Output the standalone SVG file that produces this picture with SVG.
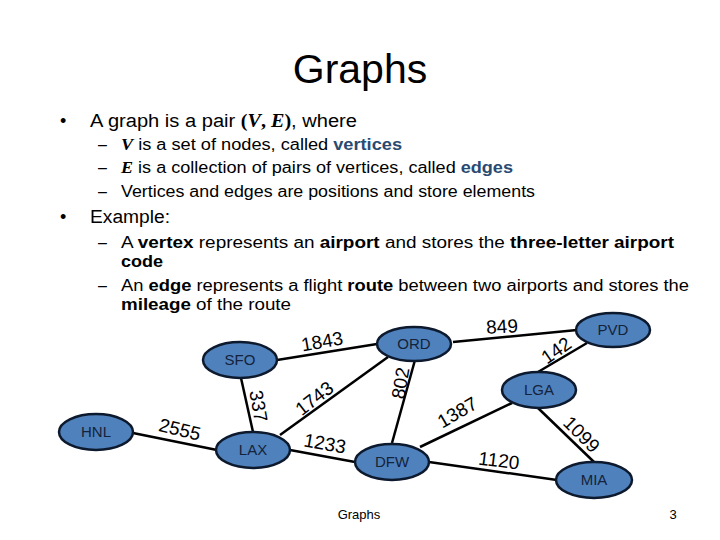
<svg xmlns="http://www.w3.org/2000/svg" width="720" height="540" viewBox="0 0 720 540">
<style>
text{font-family:"Liberation Sans",Arial,sans-serif;fill:#000}
.title{font-size:41px}
.b1{font-size:18px}
.b2{font-size:16px}
.bd{font-weight:bold}
.hl{font-weight:bold;fill:#2a4a72}
.math{font-family:"Liberation Serif","Times New Roman",serif;font-weight:bold;font-style:italic}
.mp{font-family:"Liberation Serif","Times New Roman",serif;font-weight:bold}
.node ellipse{fill:#4f81bd;stroke:#0d1a2e;stroke-width:2.5}
.node text{font-size:15px;fill:#14233a;text-anchor:middle}
.edges line{stroke:#000;stroke-width:2.5}
.lbl{font-size:19px;text-anchor:middle}
.foot{font-size:13px}
</style>
<rect width="720" height="540" fill="#fff"/>
<text class="title" x="360" y="83" text-anchor="middle">Graphs</text>

<text class="b1" x="60" y="127">•</text>
<text class="b1" x="90" y="127" textLength="267" lengthAdjust="spacingAndGlyphs">A graph is a pair <tspan class="mp">(</tspan><tspan class="math">V</tspan><tspan class="mp">, </tspan><tspan class="math">E</tspan><tspan class="mp">)</tspan>, where</text>

<text class="b2" x="98" y="150">–</text>
<text class="b2" x="121" y="150" textLength="281" lengthAdjust="spacingAndGlyphs"><tspan class="math">V</tspan> is a set of nodes, called <tspan class="hl">vertices</tspan></text>
<text class="b2" x="98" y="173">–</text>
<text class="b2" x="121" y="173" textLength="392" lengthAdjust="spacingAndGlyphs"><tspan class="math">E</tspan> is a collection of pairs of vertices, called <tspan class="hl">edges</tspan></text>
<text class="b2" x="98" y="197">–</text>
<text class="b2" x="121" y="197" textLength="414" lengthAdjust="spacingAndGlyphs">Vertices and edges are positions and store elements</text>

<text class="b1" x="60" y="223">•</text>
<text class="b1" x="90" y="223" textLength="80" lengthAdjust="spacingAndGlyphs">Example:</text>

<text class="b2" x="98" y="248">–</text>
<text class="b2" x="121" y="248" textLength="553" lengthAdjust="spacingAndGlyphs">A <tspan class="bd">vertex</tspan> represents an <tspan class="bd">airport</tspan> and stores the <tspan class="bd">three-letter airport</tspan></text>
<text class="b2 bd" x="121" y="267" textLength="42" lengthAdjust="spacingAndGlyphs">code</text>
<text class="b2" x="98" y="291">–</text>
<text class="b2" x="121" y="291" textLength="568" lengthAdjust="spacingAndGlyphs">An <tspan class="bd">edge</tspan> represents a flight <tspan class="bd">route</tspan> between two airports and stores the</text>
<text class="b2" x="121" y="310" textLength="170" lengthAdjust="spacingAndGlyphs"><tspan class="bd">mileage</tspan> of the route</text>

<g class="edges" id="connectors">
<line x1="277" y1="360" x2="377" y2="344"/>
<line x1="241" y1="378" x2="253" y2="432"/>
<line x1="133" y1="433" x2="217" y2="450"/>
<line x1="280" y1="435" x2="388" y2="357"/>
<line x1="290" y1="450" x2="355" y2="462"/>
<line x1="415" y1="360" x2="392" y2="443"/>
<line x1="453" y1="342" x2="577" y2="330"/>
<line x1="587" y1="343" x2="538" y2="372"/>
<line x1="420" y1="447" x2="512" y2="403"/>
<line x1="538" y1="408" x2="594" y2="462"/>
<line x1="429" y1="462" x2="557" y2="480"/>
<text class="lbl" x="322" y="348" transform="rotate(-10 322 341)">1843</text>
<text class="lbl" x="259" y="413" transform="rotate(80 259 406)">337</text>
<text class="lbl" x="180" y="436" transform="rotate(14 180 429)">2555</text>
<text class="lbl" x="314" y="405" transform="rotate(-38 314 398)">1743</text>
<text class="lbl" x="325" y="450" transform="rotate(10 325 443)">1233</text>
<text class="lbl" x="400" y="390" transform="rotate(-80 400 383)">802</text>
<text class="lbl" x="502" y="333" transform="rotate(-3 502 326)">849</text>
<text class="lbl" x="556" y="357" transform="rotate(-35 556 350)">142</text>
<text class="lbl" x="457" y="419" transform="rotate(-30 457 412)">1387</text>
<text class="lbl" x="582" y="441" transform="rotate(45 582 434)">1099</text>
<text class="lbl" x="499" y="467" transform="rotate(7 499 460)">1120</text>
</g>

<g class="node" id="SFO"><ellipse cx="240" cy="360" rx="37" ry="18"/><text x="240" y="365">SFO</text></g>
<g class="node" id="HNL"><ellipse cx="96" cy="432" rx="37" ry="18"/><text x="96" y="437">HNL</text></g>
<g class="node" id="LAX"><ellipse cx="253" cy="450" rx="37" ry="18"/><text x="253" y="455">LAX</text></g>
<g class="node" id="ORD"><ellipse cx="414" cy="344" rx="37" ry="17"/><text x="414" y="349">ORD</text></g>
<g class="node" id="PVD"><ellipse cx="613" cy="330" rx="37" ry="17"/><text x="613" y="335">PVD</text></g>
<g class="node" id="LGA"><ellipse cx="539" cy="390" rx="37" ry="18"/><text x="539" y="395">LGA</text></g>
<g class="node" id="DFW"><ellipse cx="392" cy="462" rx="37" ry="18"/><text x="392" y="467">DFW</text></g>
<g class="node" id="MIA"><ellipse cx="594" cy="480" rx="38" ry="18"/><text x="594" y="485">MIA</text></g>

<text class="foot" x="359" y="519" text-anchor="middle">Graphs</text>
<text class="foot" x="673" y="519" text-anchor="middle">3</text>
</svg>
